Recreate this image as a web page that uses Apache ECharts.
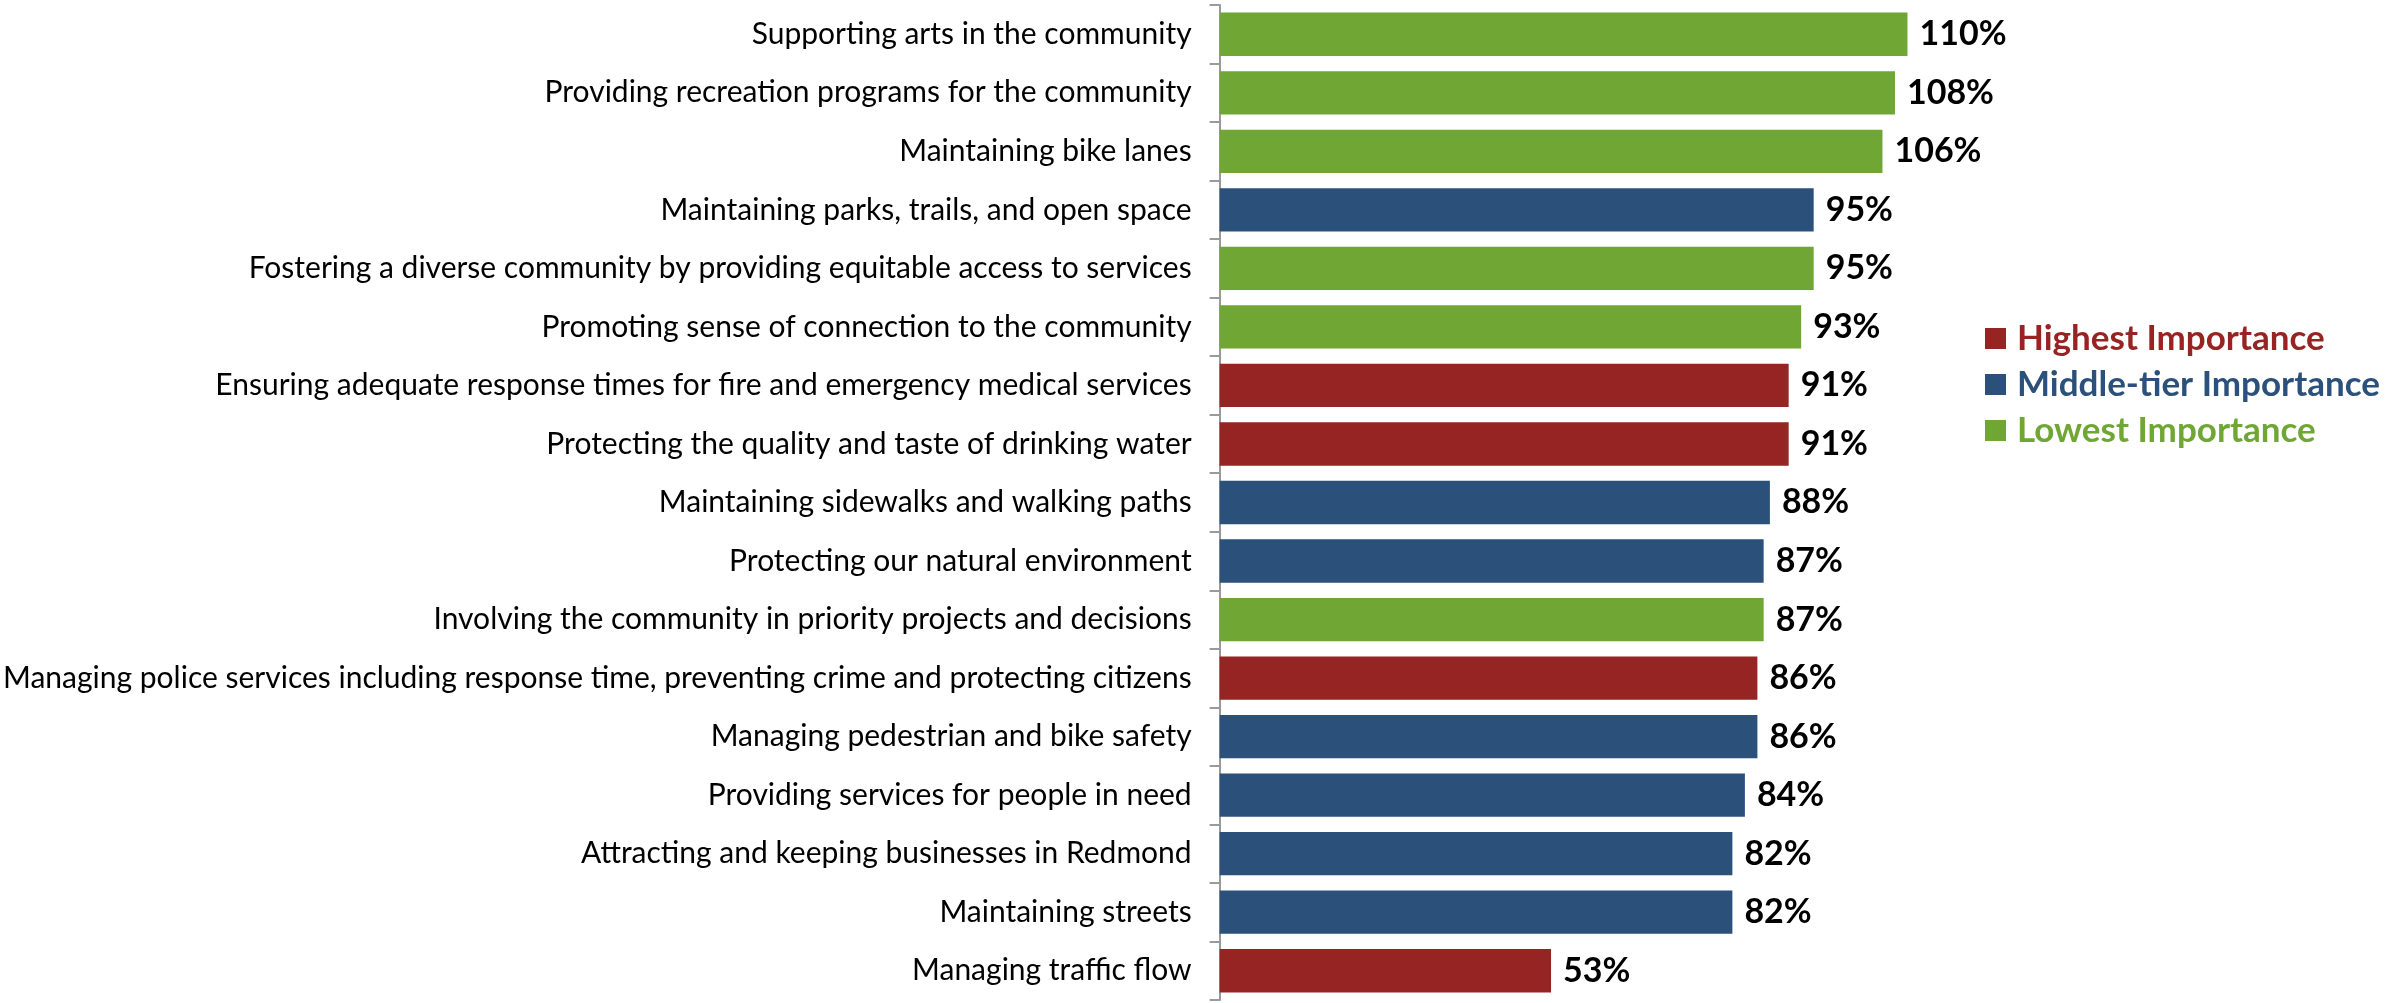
<!DOCTYPE html>
<html>
<head>
<meta charset="utf-8">
<script src="https://cdn.jsdelivr.net/npm/echarts@6/dist/echarts.min.js"></script>
<style>
  html, body { margin: 0; padding: 0; background: #ffffff; }
  #chart { width: 2394px; height: 1003px; }
</style>
</head>
<body>
<div id="chart"></div>
<script>
// Survey priorities, listed top to bottom
const categories = [
  'Supporting arts in the community',
  'Providing recreation programs for the community',
  'Maintaining bike lanes',
  'Maintaining parks, trails, and open space',
  'Fostering a diverse community by providing equitable access to services',
  'Promoting sense of connection to the community',
  'Ensuring adequate response times for fire and emergency medical services',
  'Protecting the quality and taste of drinking water',
  'Maintaining sidewalks and walking paths',
  'Protecting our natural environment',
  'Involving the community in priority projects and decisions',
  'Managing police services including response time, preventing crime and protecting citizens',
  'Managing pedestrian and bike safety',
  'Providing services for people in need',
  'Attracting and keeping businesses in Redmond',
  'Maintaining streets',
  'Managing traffic flow'
];
const values = [110, 108, 106, 95, 95, 93, 91, 91, 88, 87, 87, 86, 86, 84, 82, 82, 53];
const tiers = ['Lowest', 'Lowest', 'Lowest', 'Middle', 'Lowest', 'Lowest', 'Highest', 'Highest',
  'Middle', 'Middle', 'Lowest', 'Highest', 'Middle', 'Middle', 'Middle', 'Middle', 'Highest'];

const tierKeys = ['Highest', 'Middle', 'Lowest'];
const tierNames = ['Highest Importance', 'Middle-tier Importance', 'Lowest Importance'];
const tierColors = ['#952422', '#2B517B', '#70A633'];

const chart = echarts.init(document.getElementById('chart'), null, { renderer: 'canvas' });

// one stacked series per tier so each bar takes its tier colour and legend entry
const series = tierKeys.map((key, i) => ({
  name: tierNames[i],
  type: 'bar',
  stack: 'all',
  barCategoryGap: '26%',
  itemStyle: { color: tierColors[i] },
  label: {
    show: true,
    position: 'right',
    distance: 12,
    formatter: p => p.value + '%',
    color: '#000000',
    fontFamily: 'Lato',
    fontWeight: 'bold',
    fontSize: 34
  },
  data: values.map((v, j) => tiers[j] === key ? v : '-')
}));

chart.setOption({
  animation: false,
  backgroundColor: '#ffffff',
  grid: { left: 1218, top: 5, width: 752, height: 995, containLabel: false },
  legend: {
    orient: 'vertical',
    left: 1980,
    top: 316,
    itemWidth: 21,
    itemHeight: 21,
    itemGap: 11,
    icon: 'rect',
    textStyle: { fontFamily: 'Lato', fontWeight: 'bold', fontSize: 35, padding: [0, 0, 0, 6] },
    data: tierNames.map((n, i) => ({ name: n, textStyle: { color: tierColors[i] } }))
  },
  xAxis: {
    type: 'value',
    min: 0,
    max: 120,
    show: false
  },
  yAxis: {
    type: 'category',
    inverse: true,
    data: categories,
    axisLine: { show: true, lineStyle: { color: '#9a9a9a', width: 2 } },
    axisTick: { show: true, length: 10, alignWithLabel: false, lineStyle: { color: '#9a9a9a', width: 2 } },
    axisLabel: {
      margin: 28,
      color: '#000000',
      fontFamily: 'Lato',
      fontSize: 30
    },
    splitLine: { show: false }
  },
  series: series
});
</script>
</body>
</html>
